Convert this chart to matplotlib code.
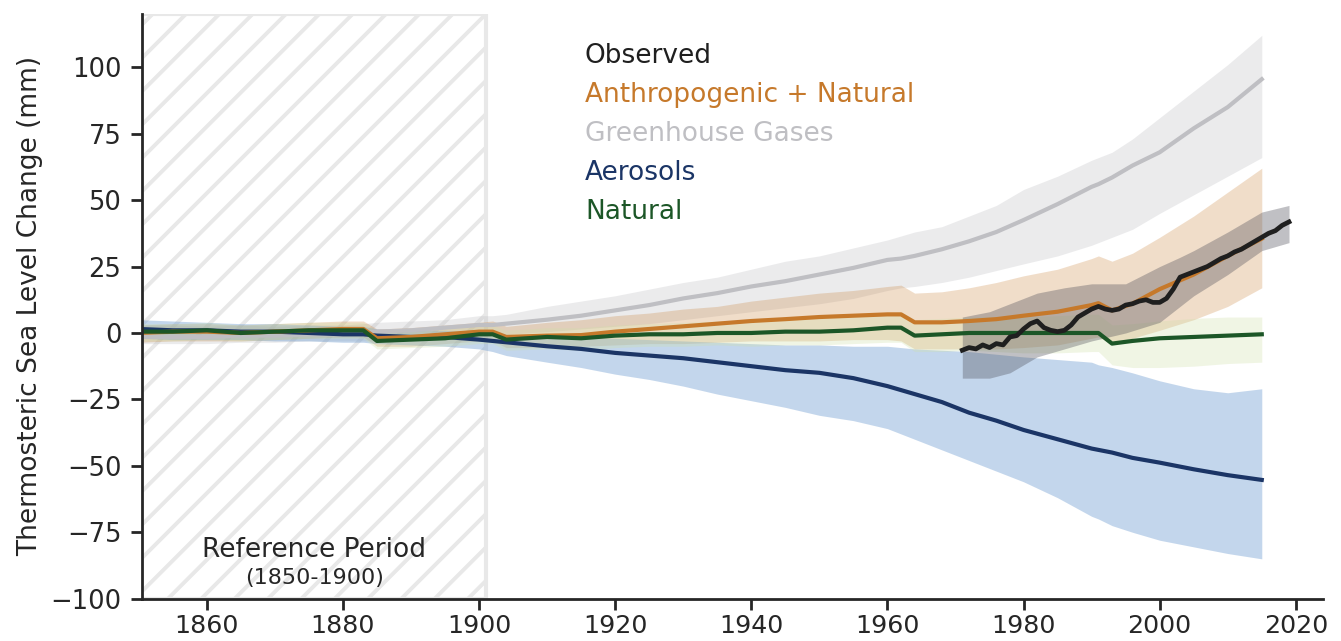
import matplotlib
matplotlib.use("Agg")
import matplotlib.pyplot as plt
import numpy as np

# model years (annual model output read at irregular steps, incl. eruption years)
years = [1850, 1855, 1860, 1865, 1870, 1875, 1880, 1883, 1885, 1890, 1895, 1900, 1902, 1904,
         1910, 1915, 1920, 1925, 1930, 1935, 1940, 1945, 1950, 1955, 1960, 1962, 1964, 1968,
         1972, 1976, 1980, 1985, 1990, 1991, 1993, 1996, 2000, 2005, 2010, 2015]

ghg = [-1.5, -1.5, -1.5, -1, -1, -0.5, -0.5, 0, 0.5, 1, 2, 3, 3, 3.5,
       5, 6.5, 8.5, 10.5, 13, 15, 17.5, 19.5, 22, 24.5, 27.5, 28, 29, 31.5,
       34.5, 38, 42.5, 48.5, 55, 56, 58.5, 63, 68, 77, 85, 95.5]
ghg_hi = [3, 3, 2.5, 3, 2.5, 3, 3, 3.5, 4, 4.5, 5, 6.5, 6.5, 7,
          10, 12, 14, 16.5, 19, 21, 24, 27, 29, 32, 35, 36.5, 38, 40,
          44, 48, 54, 59, 65, 66, 68, 73, 81, 91, 101, 112]
ghg_lo = [-4, -4, -4, -3.5, -3.5, -3, -3, -3, -3, -2.5, -2, -1, -1, -0.5,
          0.5, 1.5, 2.5, 3.5, 5, 6.5, 8, 9.5, 11, 13, 16, 17, 17.5, 19,
          21, 23.5, 26, 29, 33, 34, 36, 39, 45, 52, 59, 66]

ant = [0, 0.5, 0.5, 0, 0.5, 1, 1.5, 1.5, -2, -1.5, -0.5, 0.5, 0.5, -1.5,
       -1, -0.8, 0.5, 1.5, 2.5, 3.5, 4.5, 5.2, 6, 6.5, 7, 7, 4, 4,
       4.5, 5.2, 6.5, 8, 10.5, 11.2, 8.5, 11, 16.5, 22, 29, 35.5]
ant_hi = [3, 3.5, 3.5, 3, 3.5, 4, 4.5, 4.5, 1.5, 2, 3, 4, 4.5, 2.5,
          4, 5, 6.5, 7.5, 9, 10, 12, 13.5, 15, 16, 17.5, 18, 15, 15.5,
          17, 19, 21.5, 24, 28, 29, 27, 30, 36, 44, 53, 62]
ant_lo = [-3.5, -3, -3, -3, -2.5, -2, -1.5, -1.5, -5, -5, -4, -3, -3, -5.5,
          -5.5, -5, -4.5, -4, -4, -3.5, -3, -3, -3, -2.5, -2.5, -3, -6, -6,
          -6, -6, -5.5, -4.5, -2, -1.5, -4, -2, 1, 5, 10, 17]

aer = [1.5, 1, 1, 0.5, 0.5, 0, -0.5, -0.5, -1, -1.5, -1.5, -2.5, -3, -3.5,
       -5, -6, -7.5, -8.5, -9.5, -11, -12.5, -14, -15, -17, -20, -21.5, -23, -26,
       -30, -33, -36.5, -40, -43.5, -44, -45, -47, -48.8, -51.3, -53.5, -55.3]
aer_hi = [5, 4.5, 4, 3.5, 3.5, 3, 2.5, 2.5, 1.5, 1, 1, 0, 0, -0.5,
          -1, -1.5, -2, -2.5, -3, -3.5, -4, -4.5, -4.5, -5, -5, -5.5, -6, -6.5,
          -7, -8, -9, -10, -11, -12, -13, -15, -18, -21, -22.5, -21]
aer_lo = [-2, -2.5, -2.5, -2.5, -3, -3, -3.5, -3.5, -4, -4.5, -5, -6, -7, -8.5,
          -11, -13, -15.5, -17.5, -20, -23, -25.5, -28, -31, -33, -36, -38, -40, -44,
          -48, -52, -56, -62, -69, -70, -72.5, -75, -78, -80.5, -83, -85]

nat = [0.5, 0.5, 1, 0, 0.5, 1, 1, 1, -3, -2.5, -2, -0.5, -0.5, -2.5,
       -1.5, -2, -1, -0.5, -0.5, 0, 0, 0.5, 0.5, 1, 2, 2, -1, -0.5,
       0, 0, 0, 0, 0, 0, -4, -3, -2, -1.5, -1, -0.5]
nat_hi = [3.5, 3.5, 4, 3, 3.5, 4, 4, 4, 0.5, 0.5, 1.5, 2.5, 3, 1,
          2, 2, 3, 3.5, 4, 4.5, 5, 5.5, 6, 6.5, 7.5, 8, 5, 5.5,
          6, 6, 6, 6.5, 7, 7, 3, 3.5, 4.5, 5.5, 6, 6]
nat_lo = [-3, -3, -2.5, -3, -2.5, -2, -2, -2, -6, -5.5, -5, -4, -4, -6.5,
          -6, -6.5, -5.5, -5, -5, -4.5, -5, -4.5, -4.5, -4, -3.5, -3.5, -7, -7,
          -6.5, -7, -7.5, -7.5, -7, -7, -12, -13, -13, -12.5, -11.5, -11]

# observations
obs_years = [1971, 1972, 1973, 1974, 1975, 1976, 1977, 1978, 1979, 1980, 1981, 1982, 1983,
             1984, 1985, 1986, 1987, 1988, 1989, 1990, 1991, 1992, 1993, 1994, 1995, 1996,
             1997, 1998, 1999, 2000, 2001, 2002, 2003, 2004, 2005, 2006, 2007, 2008, 2009,
             2010, 2011, 2012, 2013, 2014, 2015, 2016, 2017, 2018, 2019]
obs = [-6.5, -5.5, -6, -4.5, -5.5, -4, -4.5, -1.5, -1, 1.5, 3.5, 4.5, 2,
       1, 0.5, 1, 3, 6, 7.5, 9, 10, 9, 8.5, 9, 10.5, 11, 12, 12.5, 11.5, 11.5, 13, 16.5,
       21, 22, 23, 24, 25, 26.5, 28, 29, 30.5, 31.5, 33, 34.5, 36, 37.5, 38.5, 40.5, 41.8]
obs_band_years = [1971, 1975, 1978, 1982, 1986, 1990, 1995, 2000, 2003, 2005, 2010, 2015, 2019]
obs_hi = [6, 8, 11, 15, 17, 18.5, 18.5, 25, 28.5, 31, 38, 45.5, 48]
obs_lo = [-17, -17, -15, -9, -6, -3, 0, 4, 10, 14, 22, 31, 34]

labels = ["Observed", "Anthropogenic + Natural", "Greenhouse Gases", "Aerosols", "Natural"]
colors = ["#1f1f1f", "#c6792b", "#bfbfc3", "#1b3566", "#1c5627"]

plt.rcParams["font.family"] = "DejaVu Sans"
plt.rcParams["hatch.linewidth"] = 1.4

fig = plt.figure(figsize=(6.705, 3.205), dpi=200)
ax = fig.add_axes([0.106, 0.066, 0.8806, 0.912])

# reference period box
ax.axvspan(1850, 1901, facecolor="white", edgecolor="#e8e8e8", hatch="//", linewidth=1.5, zorder=0)

ax.fill_between(years, ghg_lo, ghg_hi, color="#bebec2", alpha=0.3, linewidth=0, zorder=1)
ax.fill_between(years, ant_lo, ant_hi, color="#c6792b", alpha=0.25, linewidth=0, zorder=1)
ax.fill_between(years, aer_lo, aer_hi, color="#6b9ad0", alpha=0.4, linewidth=0, zorder=1)
ax.fill_between(years, nat_lo, nat_hi, color="#cfe0a8", alpha=0.3, linewidth=0, zorder=1)
ax.fill_between(obs_band_years, obs_lo, obs_hi, color="#4d4d57", alpha=0.35, linewidth=0, zorder=1)

ax.plot(years, ghg, color=colors[2], lw=1.5, zorder=2)
ax.plot(years, aer, color=colors[3], lw=1.5, zorder=2)
ax.plot(years, ant, color=colors[1], lw=1.5, zorder=2)
ax.plot(years, nat, color=colors[4], lw=1.5, zorder=2)
ax.plot(obs_years, obs, color=colors[0], lw=1.7, zorder=3)

for i, (lab, c) in enumerate(zip(labels, colors)):
    ax.text(0.375, 0.928 - i * 0.0666, lab, color=c, fontsize=9.5,
            transform=ax.transAxes, va="center", ha="left")

ax.text(1875.8, -81.8, "Reference Period", ha="center", va="center", fontsize=9.5, color="#262626")
ax.text(1875.8, -92.2, "(1850-1900)", ha="center", va="center", fontsize=8, color="#262626")

ax.set_xlim(1850.5, 2024)
ax.set_ylim(-100, 120)
ax.set_xticks(range(1860, 2021, 20))
ax.set_yticks(range(-100, 101, 25))
ax.set_ylabel("Thermosteric Sea Level Change (mm)", fontsize=9.5, color="#262626", labelpad=2.5)
ax.tick_params(labelsize=9.3, length=4, width=1, colors="#262626")
ax.tick_params(axis="x", pad=1.5, labelsize=9.1)
for s in ["top", "right"]:
    ax.spines[s].set_visible(False)
for s in ["left", "bottom"]:
    ax.spines[s].set_linewidth(1)
    ax.spines[s].set_color("#262626")

fig.savefig("out.png", dpi=200)
